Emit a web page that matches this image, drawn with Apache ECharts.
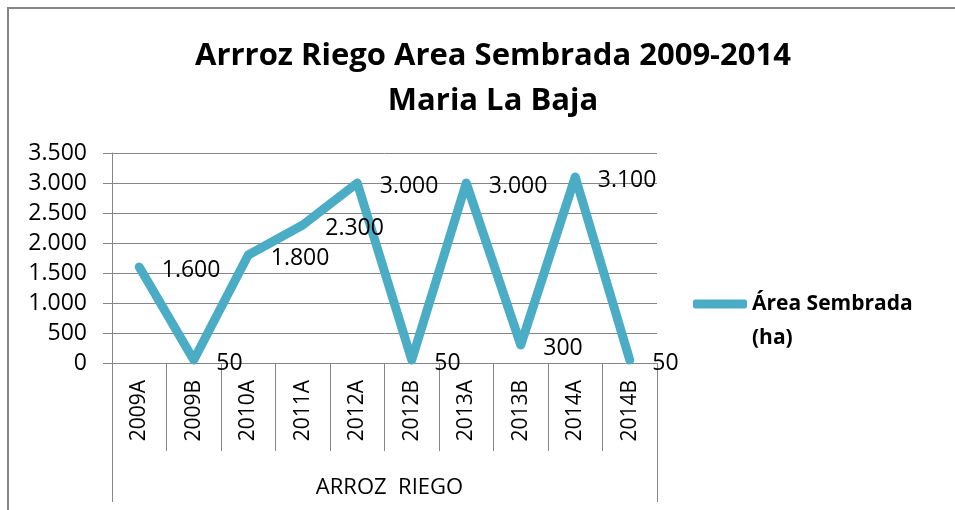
<!DOCTYPE html>
<html>
<head>
<meta charset="utf-8">
<script src="https://cdn.jsdelivr.net/npm/echarts@6/dist/echarts.min.js"></script>
<style>
  html, body { margin: 0; padding: 0; background: #fff; }
  #chart { width: 955px; height: 510px; }
</style>
</head>
<body>
<div id="chart"></div>
<script>
const categories = ['2009A', '2009B', '2010A', '2011A', '2012A', '2012B', '2013A', '2013B', '2014A', '2014B']
const groupLabels = ['ARROZ  RIEGO']
const areaSembrada = [1600, 50, 1800, 2300, 3000, 50, 3000, 300, 3100, 50]
const seriesName = 'Área Sembrada (ha)'

const font = 'Open Sans'
const gridColor = '#868686'

function fmt(v) {
  return String(v).replace(/\B(?=(\d{3})+(?!\d))/g, '.')
}

const chart = echarts.init(document.getElementById('chart'))

chart.setOption({
  animation: false,
  textStyle: { fontFamily: font, color: '#000' },
  graphic: [{
    type: 'rect',
    shape: { x: 8, y: 8, width: 1000, height: 1000 },
    style: { fill: 'none', stroke: gridColor, lineWidth: 2 },
    silent: true
  }],
  title: {
    text: 'Arrroz Riego Area Sembrada 2009-2014\nMaria La Baja',
    left: 488,
    textAlign: 'center',
    top: 29,
    textStyle: { fontFamily: font, fontWeight: 'bold', fontSize: 31, lineHeight: 45, color: '#000' }
  },
  legend: {
    orient: 'vertical',
    left: 688,
    top: 248,
    icon: 'roundRect',
    itemWidth: 54,
    itemHeight: 9,
    formatter: () => ' \nÁrea Sembrada\n(ha)',
    textStyle: { fontFamily: font, fontWeight: 'bold', fontSize: 21, lineHeight: 34, color: '#000' }
  },
  grid: { left: 112, right: 298, top: 153, bottom: 147 },
  xAxis: [
    {
      type: 'category',
      data: categories,
      boundaryGap: true,
      axisLine: { show: true, lineStyle: { color: gridColor } },
      axisTick: { show: true, length: 88, interval: 0, lineStyle: { color: gridColor } },
      axisLabel: { rotate: 90, interval: 0, margin: 17, fontSize: 21, color: '#000', fontFamily: font }
    },
    {
      type: 'category',
      position: 'bottom',
      offset: 88,
      data: groupLabels,
      boundaryGap: true,
      axisLine: { show: false },
      axisTick: { show: true, length: 51, interval: 0, lineStyle: { color: gridColor } },
      axisLabel: { margin: 26, fontSize: 22, color: '#000', fontFamily: font, padding: [0, 0, 0, 10] }
    }
  ],
  yAxis: {
    type: 'value',
    min: 0,
    max: 3500,
    interval: 500,
    axisLine: { show: true, lineStyle: { color: gridColor } },
    axisTick: { show: true, length: 9, lineStyle: { color: gridColor } },
    axisLabel: { margin: 25, fontSize: 23, color: '#000', fontFamily: font, formatter: fmt },
    splitLine: { show: true, lineStyle: { color: gridColor, width: 1 } }
  },
  series: [{
    name: seriesName,
    type: 'line',
    xAxisIndex: 0,
    data: areaSembrada,
    symbol: 'circle',
    symbolSize: 1,
    lineStyle: { color: '#4BACC6', width: 9, cap: 'round', join: 'round' },
    itemStyle: { color: '#4BACC6' },
    label: {
      show: true,
      position: 'right',
      distance: 22,
      offset: [0, 3],
      fontSize: 23,
      color: '#000',
      fontFamily: font,
      formatter: p => fmt(p.value)
    }
  }]
})
</script>
</body>
</html>
